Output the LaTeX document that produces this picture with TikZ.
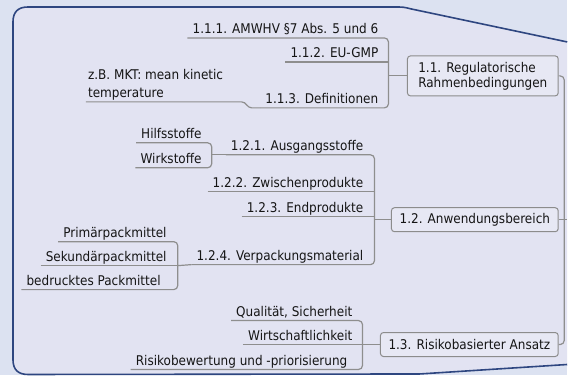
\documentclass[tikz,border=0pt]{standalone}
\usepackage{fontspec}
\newfontfamily\mmfont{DejaVu Sans Condensed}
\definecolor{outerbg}{HTML}{DCE2F1}
\definecolor{innerbg}{HTML}{E2E3F2}
\definecolor{boxfill}{HTML}{E7E8F4}
\definecolor{boxborder}{HTML}{8C8C8C}
\definecolor{connc}{HTML}{8E8E8E}
\definecolor{navy}{HTML}{2E4680}
\definecolor{txt}{HTML}{151515}
\tikzset{
  leaf/.style={anchor=south east, inner xsep=5pt, inner ysep=1pt, text depth=2.8pt,
    font=\mmfont\fontsize{13.4}{15}\selectfont, text=txt},
  note/.style={anchor=south west, inner xsep=2pt, inner ysep=1pt, text depth=2.8pt, align=left,
    font=\mmfont\fontsize{13.4}{18}\selectfont, text=txt},
  topic/.style={draw=boxborder, fill=boxfill, rounded corners=3pt, line width=1pt,
    font=\mmfont\fontsize{13.4}{15}\selectfont, text=txt},
  conn/.style={draw=connc, line width=1.2pt},
  rc/.style={rounded corners=4pt},
}
\begin{document}
\begin{tikzpicture}[x=1pt,y=-1pt]
\fill[outerbg] (0,0) rectangle (568,376);
\filldraw[fill=innerbg, draw=navy, line width=1.6pt]
  (568,42) -- (412,9) .. controls (404,7) .. (394,7) -- (28,7)
  .. controls (18,7) and (13,12) .. (13,22) -- (13,360)
  .. controls (13,370) and (18,375) .. (28,375) -- (420,374.5) -- (568,365);

% ---------- 1.1
\node[topic, minimum width=151pt, minimum height=40pt, align=left] (s11) at (483.5,76) {1.1. Regulatorische\\Rahmenbedingungen};
\node[leaf] (t111) at (384,38) {1.1.1. AMWHV §7 Abs. 5 und 6};
\node[leaf] (t112) at (384,62) {1.1.2. EU-GMP};
\node[leaf] (t113) at (384,108) {1.1.3. Definitionen};
\node[note] (n113) at (86,102) {z.B. MKT: mean kinetic\\temperature};
\coordinate (b11) at (389,76);
\draw[conn,rc] (t111.south west) -- (t111.south west -| b11) -- (t113.south west -| b11) -- (t113.south west);
\draw[conn] (t112.south west) -- (t112.south west -| b11);
\draw[conn] (b11) -- (s11.west);
\draw[conn] (n113.south west) -- (242,102) to[out=0,in=180] (252,108) -- (t113.south west);

% ---------- 1.2
\node[topic, minimum width=167pt, minimum height=24pt] (s12) at (475.5,220) {1.2. Anwendungsbereich};
\node[leaf] (t121) at (369,155) {1.2.1. Ausgangsstoffe};
\node[leaf] (t122) at (369,192) {1.2.2. Zwischenprodukte};
\node[leaf] (t123) at (369,217) {1.2.3. Endprodukte};
\node[leaf] (t124) at (369,265) {1.2.4. Verpackungsmaterial};
\coordinate (b12) at (375,220);
\draw[conn,rc] (t121.south west) -- (t121.south west -| b12) -- (t124.south west -| b12) -- (t124.south west);
\draw[conn] (t122.south west) -- (t122.south west -| b12);
\draw[conn] (t123.south west) -- (t123.south west -| b12);
\draw[conn] (b12) -- (s12.west);

\node[leaf] (h1) at (207,143) {Hilfsstoffe};
\node[leaf] (h2) at (207,168) {Wirkstoffe};
\coordinate (b121) at (212,155);
\draw[conn,rc] (h1.south west) -- (h1.south west -| b121) -- (h2.south west -| b121) -- (h2.south west);
\draw[conn] (b121) -- (t121.south west);

\node[leaf] (p1) at (172,242) {Primärpackmittel};
\node[leaf] (p2) at (172,266) {Sekundärpackmittel};
\node[leaf] (p3) at (166,290) {bedrucktes Packmittel};
\coordinate (b124) at (178,266);
\draw[conn,rc] (p1.south west) -- (p1.south west -| b124) -- (p3.south west -| b124) -- (p3.south west);
\draw[conn] (p2.south west) -- (p2.south west -| b124);
\draw[conn] (b124) -- (t124.south west);

% ---------- 1.3
\node[topic, minimum width=178pt, minimum height=24pt] (s13) at (470,345) {1.3. Risikobasierter Ansatz};
\node[leaf] (q1) at (358,321) {Qualität, Sicherheit};
\node[leaf] (q2) at (358,345) {Wirtschaftlichkeit};
\node[leaf] (q3) at (353,370) {Risikobewertung und -priorisierung};
\coordinate (b13) at (363,345);
\draw[conn,rc] (q1.south west) -- (q1.south west -| b13) -- (q3.south west -| b13) -- (q3.south west);
\draw[conn] (q2.south west) -- (q2.south west -| b13);
\draw[conn] (b13) -- (s13.west);

% ---------- trunk
\coordinate (tr) at (565,220);
\coordinate (root) at (568,220);
\draw[conn,rc] (s11.east) -- (s11.east -| tr) -- (s13.east -| tr) -- (s13.east);
\draw[conn] (s12.east) -- (root);
\end{tikzpicture}
\end{document}
